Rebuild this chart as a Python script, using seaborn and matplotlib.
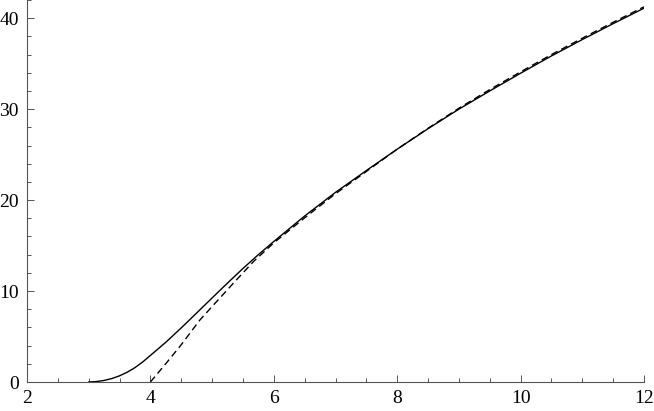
import numpy as np
import pandas as pd
import matplotlib
matplotlib.use("Agg")
import matplotlib.pyplot as plt
import seaborn as sns
from matplotlib.ticker import MultipleLocator

# values
x_solid = [3.0, 3.125, 3.25, 3.375, 3.5, 3.625, 3.75, 3.875, 4.0, 4.25, 4.5,
           4.75, 5.0, 5.25, 5.5, 5.75, 6.0, 6.5, 7.0, 7.5, 8.0, 8.5, 9.0, 9.5,
           10.0, 10.5, 11.0, 11.5, 12.0]
y_solid = [0.0, 0.05, 0.17, 0.38, 0.68, 1.08, 1.58, 2.2, 2.92, 4.37, 5.95,
           7.59, 9.24, 10.88, 12.48, 14.0, 15.45, 18.25, 20.85, 23.25, 25.6,
           27.85, 30.0, 32.0, 33.95, 35.85, 37.65, 39.4, 41.1]
x_dash = [4.0, 4.26, 4.5, 4.8, 5.0, 5.35, 5.5, 5.68, 6.0, 6.5, 7.0, 7.5, 8.0,
          8.5, 9.0, 9.5, 10.0, 10.5, 11.0, 11.5, 12.0]
y_dash = [0.0, 2.1, 4.1, 6.8, 8.3, 10.9, 12.0, 13.3, 15.3, 18.05, 20.7, 23.15,
          25.6, 27.9, 30.1, 32.15, 34.1, 36.0, 37.8, 39.55, 41.25]

sns.set_style("ticks")
plt.rcParams["font.family"] = ["Liberation Serif", "DejaVu Serif"]

fig = plt.figure(figsize=(6.54, 4.11), dpi=100)
ax = fig.add_axes([27 / 654, 1 - 382 / 411, (644 - 27) / 654, 382 / 411])

sns.lineplot(x=x_solid, y=y_solid, ax=ax, color="black", lw=1.0)
sns.lineplot(x=x_dash, y=y_dash, ax=ax, color="black", lw=1.0,
             linestyle=(0, (5, 3)))

ax.set_xlim(2, 12)
ax.set_ylim(0, 42)
ax.xaxis.set_major_locator(MultipleLocator(2))
ax.xaxis.set_minor_locator(MultipleLocator(0.5))
ax.yaxis.set_major_locator(MultipleLocator(10))
ax.yaxis.set_minor_locator(MultipleLocator(2))

for s in ["top", "right"]:
    ax.spines[s].set_visible(False)
for s in ["left", "bottom"]:
    ax.spines[s].set_color("#555555")
    ax.spines[s].set_linewidth(0.8)

ax.tick_params(which="both", direction="in", color="#555555", width=0.7,
               labelsize=14, labelcolor="black")
ax.tick_params(which="major", length=5)
ax.tick_params(which="minor", length=3)
ax.tick_params(axis="x", which="major", pad=6)
ax.tick_params(axis="y", which="major", pad=6)
ax.set_xlabel("")
ax.set_ylabel("")

plt.savefig("out.png", dpi=100)
plt.close()
